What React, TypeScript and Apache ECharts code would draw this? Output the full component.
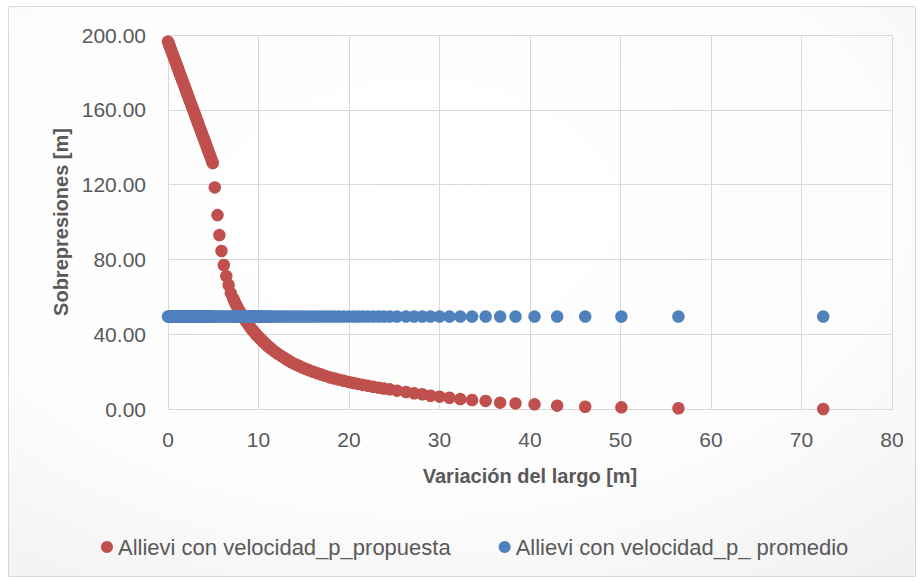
import React, { useEffect, useRef } from "react";
import * as echarts from "echarts";

// Variación del largo [m] (x) shared by both series
const xValues: number[] = [
  0, 0.1, 0.2, 0.3, 0.4, 0.5, 0.6, 0.7, 0.8, 0.9, 1.0, 1.1, 1.2, 1.3, 1.4, 1.5, 1.6, 1.7, 1.8, 1.9,
  2.0, 2.1, 2.2, 2.3, 2.4, 2.5, 2.6, 2.7, 2.8, 2.9, 3.0, 3.1, 3.2, 3.3, 3.4, 3.5, 3.6, 3.7, 3.8, 3.9,
  4.0, 4.1, 4.2, 4.3, 4.4, 4.5, 4.6, 4.7, 4.8, 4.9, 4.95,
  5.17, 5.47, 5.68, 5.91, 6.17, 6.44, 6.7, 6.94,
  7.2, 7.33, 7.45, 7.58, 7.7, 7.83, 7.95, 8.08, 8.2, 8.33, 8.45, 8.58, 8.7, 8.83, 8.95, 9.08, 9.2, 9.33,
  9.45, 9.58, 9.7, 9.83, 9.95, 10.1, 10.25, 10.4, 10.55, 10.7, 10.85, 11.0, 11.15, 11.3, 11.45,
  11.8, 12.15, 12.5, 12.85, 13.2, 13.6, 14.0, 14.4, 14.8, 15.2, 15.6, 16.05, 16.5, 16.95, 17.4, 17.9,
  18.4, 18.9, 19.4, 19.95, 20.5, 21.0, 21.55, 22.1, 22.65, 23.25, 23.85,
  24.5, 25.3, 26.3, 27.2, 28.1, 29.0, 30.0, 31.1, 32.3, 33.6, 35.1, 36.7, 38.4, 40.5, 43.0, 46.1, 50.1, 56.4, 72.4,
];

// Sobrepresiones [m] – Allievi con velocidad_p_propuesta
const redValues: number[] = [
  196.5, 195.2, 193.9, 192.6, 191.2, 189.9, 188.6, 187.3, 186.0, 184.7, 183.4, 182.1, 180.7, 179.4, 178.1, 176.8, 175.5, 174.2, 172.9, 171.6,
  170.2, 168.9, 167.6, 166.3, 165.0, 163.7, 162.4, 161.0, 159.7, 158.4, 157.1, 155.8, 154.5, 153.2, 151.9, 150.5, 149.2, 147.9, 146.6, 145.3,
  144.0, 142.7, 141.4, 140.0, 138.7, 137.4, 136.1, 134.8, 133.5, 132.2, 131.5,
  118.5, 103.7, 93.0, 84.5, 77.0, 71.1, 66.3, 61.9,
  59.2, 57.8, 56.5, 55.3, 54.1, 53.0, 51.9, 50.9, 49.9, 49.0, 48.1, 47.2, 46.4, 45.5, 44.6, 43.8, 43.0, 42.2,
  41.5, 40.8, 40.1, 39.4, 38.8, 38.0, 37.3, 36.6, 35.9, 35.2, 34.5, 33.8, 33.2, 32.6, 32.0,
  30.7, 29.5, 28.4, 27.3, 26.2, 25.1, 24.1, 23.2, 22.3, 21.5, 20.7, 19.9, 19.1, 18.4, 17.7, 16.9,
  16.3, 15.7, 15.1, 14.5, 13.9, 13.4, 12.9, 12.4, 11.9, 11.4, 10.9,
  10.5, 9.8, 9.1, 8.4, 7.9, 7.1, 6.6, 6.0, 5.3, 4.8, 4.3, 3.4, 3.0, 2.5, 1.8, 1.2, 0.9, 0.4, 0.0,
];

// Sobrepresiones [m] – Allievi con velocidad_p_ promedio (constant level)
const blueLevel = 49.4;

const yTicks: number[] = [0, 40, 80, 120, 160, 200];
const xTicks: number[] = [0, 10, 20, 30, 40, 50, 60, 70, 80];

const seriesNames: string[] = ["Allievi con velocidad_p_propuesta", "Allievi con velocidad_p_ promedio"];
const colors: string[] = ["#C0504D", "#4F81BD"];

const FONT = "'Liberation Sans', Arial, sans-serif";

export default function App() {
  const ref = useRef<HTMLDivElement>(null);
  useEffect(() => {
    if (!ref.current) return;
    const chart = echarts.init(ref.current, undefined, { renderer: "svg" });
    const redData = xValues.map((x, i) => [x, redValues[i]]);
    const blueData = xValues.map((x) => [x, blueLevel]);
    chart.setOption({
      animation: false,
      backgroundColor: "#ffffff",
      textStyle: { fontFamily: FONT },
      graphic: [
        {
          type: "rect",
          z: -10,
          silent: true,
          shape: { x: 8.5, y: 6.5, width: 907, height: 570 },
          style: {
            fill: new echarts.graphic.RadialGradient(0.45, 0.35, 0.85, [
              { offset: 0, color: "#ffffff" },
              { offset: 0.6, color: "#fdfdfd" },
              { offset: 1, color: "#f0f0f0" },
            ]),
            stroke: "#d9d9d9",
            lineWidth: 1,
          },
        },
      ],
      grid: { left: 168, right: 32, top: 35, bottom: 174, containLabel: false },
      xAxis: {
        type: "value",
        min: xTicks[0],
        max: xTicks[xTicks.length - 1],
        interval: 10,
        name: "Variación del largo [m]",
        nameLocation: "middle",
        nameGap: 57,
        nameTextStyle: { fontSize: 20, fontWeight: "bold", color: "#595959", fontFamily: FONT },
        axisLine: { show: true, lineStyle: { color: "#d9d9d9", width: 1 } },
        axisTick: { show: false },
        axisLabel: { fontSize: 21, color: "#595959", margin: 20, fontFamily: FONT },
        splitLine: { show: true, lineStyle: { color: "#d9d9d9", width: 1 } },
      },
      yAxis: {
        type: "value",
        min: yTicks[0],
        max: yTicks[yTicks.length - 1],
        interval: 40,
        name: "Sobrepresiones [m]",
        nameLocation: "middle",
        nameGap: 96,
        nameTextStyle: { fontSize: 20, fontWeight: "bold", color: "#595959", fontFamily: FONT },
        axisLine: { show: false },
        axisTick: { show: false },
        axisLabel: {
          fontSize: 21,
          color: "#595959",
          margin: 22,
          fontFamily: FONT,
          formatter: (v: number) => v.toFixed(2),
        },
        splitLine: { show: true, lineStyle: { color: "#d9d9d9", width: 1 } },
      },
      legend: {
        left: 101,
        top: 536,
        padding: 0,
        itemWidth: 12,
        itemHeight: 12,
        itemGap: 48,
        icon: "circle",
        textStyle: { fontSize: 22, color: "#595959", fontFamily: FONT },
        data: seriesNames,
      },
      series: [
        {
          name: seriesNames[0],
          type: "scatter",
          symbol: "circle",
          symbolSize: 12.5,
          itemStyle: { color: colors[0], opacity: 1 },
          data: redData,
          z: 2,
        },
        {
          name: seriesNames[1],
          type: "scatter",
          symbol: "circle",
          symbolSize: 12.5,
          itemStyle: { color: colors[1], opacity: 1 },
          data: blueData,
          z: 3,
        },
      ],
    });
    return () => chart.dispose();
  }, []);
  return (
    <div
      ref={ref}
      style={{ position: "fixed", left: 0, top: 0, width: 924, height: 583 }}
    />
  );
}
